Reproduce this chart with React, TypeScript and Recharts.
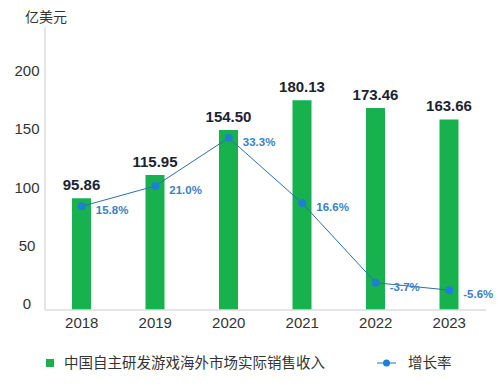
import React from 'react';
import { ComposedChart, Bar, Line, XAxis, YAxis, LabelList } from 'recharts';

const years = ['2018', '2019', '2020', '2021', '2022', '2023'];
const revenue = [95.86, 115.95, 154.5, 180.13, 173.46, 163.66];
const growth = [15.8, 21.0, 33.3, 16.6, -3.7, -5.6];
const leftTicks = [0, 50, 100, 150, 200];

const data = years.map((y, i) => ({ year: y, revenue: revenue[i], growth: growth[i] }));

const FONT = 'Arial, "Liberation Sans", "Noto Sans CJK SC", sans-serif';
const GREEN = '#17b24d';
const BLUE_LINE = '#2d6fa8';
const BLUE_DOT = '#1f7fd4';

const LeftTick = (props: any) => {
  const { y, payload } = props;
  return (
    <text x={27} y={y - 6} dy={5} textAnchor="middle" fontSize={15} fill="#333" fontFamily={FONT}>
      {payload.value}
    </text>
  );
};

export default function App() {
  return (
    <div style={{ position: 'absolute', left: 0, top: 0, width: 497, height: 386, background: '#fff' }}>
      <svg width={497} height={30} style={{ position: 'absolute', left: 0, top: 0 }}>
        <text x={25} y={22} fontSize={14} fill="#333" fontFamily={FONT}>亿美元</text>
      </svg>
      <div style={{ position: 'absolute', left: 0, top: 0 }}>
        <ComposedChart
          width={497}
          height={386}
          data={data}
          margin={{ top: 27, right: 11, bottom: 46, left: 0 }}
        >
          <XAxis
            dataKey="year"
            axisLine={{ stroke: '#dcdcdc', strokeWidth: 1.5 }}
            tickLine={false}
            height={30}
            tick={{ fontSize: 15, fill: '#333', fontFamily: FONT }}
            tickMargin={1}
          />
          <YAxis
            yAxisId="left"
            domain={[0, 243]}
            ticks={leftTicks}
            width={45}
            axisLine={{ stroke: '#dcdcdc', strokeWidth: 1.5 }}
            tickLine={false}
            tick={<LeftTick />}
            allowDataOverflow
          />
          <YAxis yAxisId="right" orientation="right" hide domain={[-10.67, 61.6]} allowDataOverflow />
          <Bar yAxisId="left" dataKey="revenue" fill={GREEN} barSize={19} isAnimationActive={false}>
            <LabelList
              dataKey="revenue"
              position="top"
              offset={8}
              formatter={(v: any) => Number(v).toFixed(2)}
              style={{ fontSize: 15, fontWeight: 700, fill: '#1c2330', fontFamily: FONT }}
            />
          </Bar>
          <Line
            yAxisId="right"
            dataKey="growth"
            stroke={BLUE_LINE}
            strokeWidth={1}
            dot={{ r: 4, fill: BLUE_DOT, stroke: BLUE_DOT, strokeWidth: 0 }}
            isAnimationActive={false}
          >
            <LabelList
              dataKey="growth"
              content={(p: any) => (
                <text
                  x={p.x + 14}
                  y={p.y + 8}
                  fontSize={11.5}
                  fontWeight={600}
                  fill="#3b7fc0"
                  fontFamily={FONT}
                >
                  {Number(p.value).toFixed(1)}%
                </text>
              )}
            />
          </Line>
        </ComposedChart>
      </div>
      <svg width={497} height={30} style={{ position: 'absolute', left: 0, top: 350 }}>
        <rect x={46} y={9} width={8} height={8} fill={GREEN} />
        <text x={64} y={18} fontSize={14.5} fill="#333" fontFamily={FONT}>中国自主研发游戏海外市场实际销售收入</text>
        <line x1={377} x2={396} y1={13} y2={13} stroke={BLUE_LINE} strokeWidth={1} />
        <circle cx={386.5} cy={13} r={3.5} fill={BLUE_DOT} />
        <text x={408} y={18} fontSize={14.5} fill="#333" fontFamily={FONT}>增长率</text>
      </svg>
    </div>
  );
}
